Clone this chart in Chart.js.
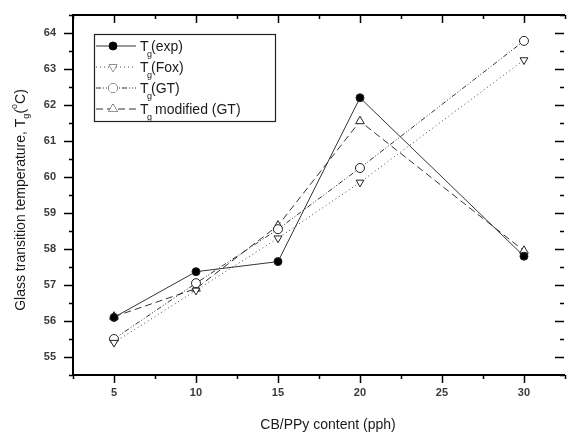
<!DOCTYPE html>
<html>
<head>
<meta charset="utf-8">
<script src="https://cdn.jsdelivr.net/npm/chart.js@4/dist/chart.umd.min.js"></script>
<style>
  html, body { margin: 0; padding: 0; background: #fff; }
  #wrap { width: 569px; height: 433px; }
</style>
</head>
<body>
<div id="wrap"><canvas id="tgChart" width="569" height="433"></canvas></div>
<script>
// CB/PPy content (pph)
var content = [5, 10, 15, 20, 30];
// Tg values
var tgExp = [56.1, 57.37, 57.65, 62.2, 57.8];
var tgFox = [55.4, 56.85, 58.3, 59.85, 63.25];
var tgGT = [55.5, 57.05, 58.55, 60.25, 63.78];
var tgModGT = [56.12, 56.9, 58.65, 61.55, 57.95];

var xTicks = [5, 10, 15, 20, 25, 30];
var yTicks = [55, 56, 57, 58, 59, 60, 61, 62, 63, 64];
var legendNames = ["(exp)", "(Fox)", "(GT)", "modified (GT)"];

function pts(ys) {
  return content.map(function (x, i) { return { x: x, y: ys[i] }; });
}

var ink = "#1a1a1a";
var font = "'Liberation Sans', Arial, sans-serif";

// frame, ticks, labels, titles and legend drawn from the chart's scales
var decor = {
  id: "decor",
  afterDraw: function (chart) {
    var ctx = chart.ctx, a = chart.chartArea;
    var xs = chart.scales.x, ys = chart.scales.y;
    ctx.save();
    ctx.strokeStyle = "#000";
    ctx.lineWidth = 2;
    // left, bottom and top axis lines (right one falls just off the picture)
    ctx.beginPath();
    ctx.moveTo(a.right + 2, a.top);
    ctx.lineTo(a.left, a.top);
    ctx.lineTo(a.left, a.bottom);
    ctx.lineTo(a.right + 2, a.bottom);
    ctx.stroke();

    ctx.lineWidth = 1.5;
    // x ticks (every 2.5, labels every 5)
    for (var v = 2.5; v <= 32.5; v += 2.5) {
      var px = Math.round(xs.getPixelForValue(v)) + 0.5;
      var major = (v % 5 === 0);
      var len = major ? 8 : 4;
      ctx.beginPath();
      ctx.moveTo(px, a.bottom); ctx.lineTo(px, a.bottom + len);
      ctx.moveTo(px, a.top); ctx.lineTo(px, a.top + len);
      ctx.stroke();
    }
    // y ticks (every 0.5, labels every 1)
    for (var w = 54.5; w <= 64.5; w += 0.5) {
      var py = Math.round(ys.getPixelForValue(w)) + 0.5;
      var maj = (w % 1 === 0);
      var l2 = maj ? 9 : 4;
      ctx.beginPath();
      ctx.moveTo(a.left, py); ctx.lineTo(a.left - l2, py);
      ctx.moveTo(a.right + 1, py); ctx.lineTo(a.right + 1 - l2, py);
      ctx.stroke();
    }

    ctx.fillStyle = "#3a3a3a";
    ctx.font = "bold 11px " + font;
    ctx.textAlign = "center";
    ctx.textBaseline = "middle";
    xTicks.forEach(function (t) {
      ctx.fillText(String(t), xs.getPixelForValue(t), 393);
    });
    ctx.textAlign = "right";
    yTicks.forEach(function (t) {
      ctx.fillText(String(t), 56, ys.getPixelForValue(t));
    });

    // x title
    ctx.fillStyle = ink;
    ctx.font = "14px " + font;
    ctx.textAlign = "center";
    ctx.textBaseline = "alphabetic";
    ctx.fillText("CB/PPy content (pph)", 328, 429);

    // y title with subscript / superscript
    ctx.save();
    ctx.translate(25, 200);
    ctx.rotate(-Math.PI / 2);
    var parts = [
      { t: "Glass transition temperature, T", s: 14, dy: 0 },
      { t: "g", s: 9, dy: 4 },
      { t: "(", s: 14, dy: 0 },
      { t: "o", s: 9, dy: -8 },
      { t: "C)", s: 14, dy: 0 }
    ];
    var total = 0;
    parts.forEach(function (p) { ctx.font = p.s + "px " + font; total += ctx.measureText(p.t).width; });
    var cx = -total / 2;
    ctx.textAlign = "left";
    parts.forEach(function (p) {
      ctx.font = p.s + "px " + font;
      ctx.fillText(p.t, cx, p.dy);
      cx += ctx.measureText(p.t).width;
    });
    ctx.restore();

    // legend box
    var bx = 94, by = 34, bw = 181, bh = 87;
    ctx.lineWidth = 1.2;
    ctx.strokeStyle = "#222";
    ctx.strokeRect(bx + 0.5, by + 0.5, bw, bh);
    chart.data.datasets.forEach(function (ds, i) {
      var ry = 46 + i * 21;
      ctx.save();
      ctx.strokeStyle = ds.borderColor;
      ctx.lineWidth = 1;
      ctx.setLineDash(ds.borderDash || []);
      ctx.beginPath();
      ctx.moveTo(bx + 2, ry); ctx.lineTo(bx + 42, ry);
      ctx.stroke();
      ctx.setLineDash([]);
      Chart.helpers.drawPoint(ctx, {
        pointStyle: ds.pointStyle, rotation: ds.pointRotation || 0,
        radius: ds.pointRadius, borderWidth: 1
      }, bx + 19, ry);
      ctx.fillStyle = ds.pointBackgroundColor;
      ctx.strokeStyle = "#222";
      ctx.fill();
      ctx.restore();
      ctx.fillStyle = ink;
      ctx.textAlign = "left";
      ctx.font = "14px " + font;
      ctx.fillText("T", 140, ry + 5);
      ctx.font = "9px " + font;
      ctx.fillText("g", 147, ry + 11);
      ctx.font = "14px " + font;
      ctx.fillText(legendNames[i], i === 3 ? 155 : 151, ry + 5);
    });
    ctx.restore();
  }
};

var common = { borderWidth: 1, pointBorderWidth: 1, pointRadius: 4.5, pointBorderColor: "#222", tension: 0 };

new Chart(document.getElementById("tgChart"), {
  type: "line",
  data: {
    datasets: [
      Object.assign({}, common, { label: "Tg(exp)", data: pts(tgExp), borderColor: "#333",
        pointStyle: "circle", pointBackgroundColor: "#000", pointRadius: 4 }),
      Object.assign({}, common, { label: "Tg(Fox)", data: pts(tgFox), borderColor: "#444", borderDash: [1, 3],
        pointStyle: "triangle", pointRotation: 180, pointBackgroundColor: "#fff" }),
      Object.assign({}, common, { label: "Tg(GT)", data: pts(tgGT), borderColor: "#333", borderDash: [5, 2, 1, 2, 1, 2],
        pointStyle: "circle", pointBackgroundColor: "#fff" }),
      Object.assign({}, common, { label: "Tg modified (GT)", data: pts(tgModGT), borderColor: "#333", borderDash: [7, 4],
        pointStyle: "triangle", pointBackgroundColor: "#fff", pointRadius: 5 })
    ]
  },
  options: {
    responsive: false,
    animation: false,
    layout: { padding: { left: 73, top: 15, right: 0, bottom: 58 } },
    plugins: { legend: { display: false }, tooltip: { enabled: false } },
    scales: {
      x: { type: "linear", min: 2.5, max: 32.38, display: false },
      y: { type: "linear", min: 54.5, max: 64.5, display: false }
    }
  },
  plugins: [decor]
});
</script>
</body>
</html>
